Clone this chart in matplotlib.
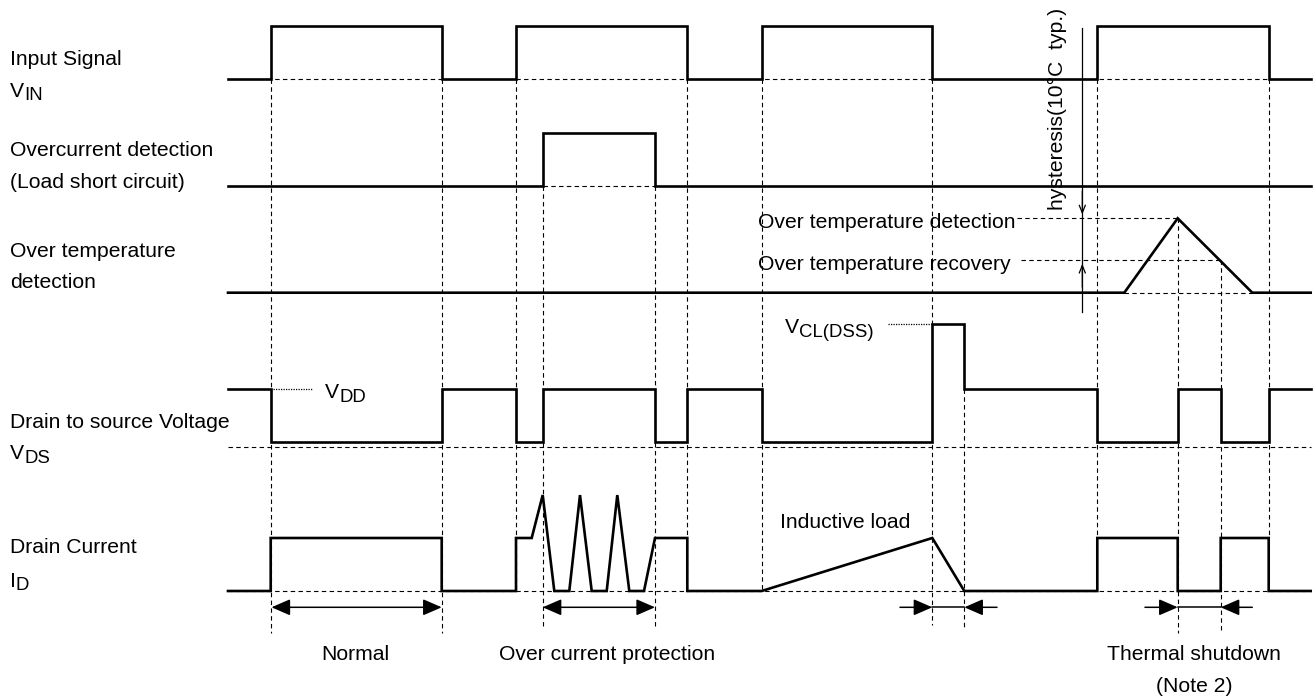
import matplotlib.pyplot as plt

plt.rcParams['font.family'] = ['Liberation Sans', 'DejaVu Sans']

# time axis (px along the diagram) and signal levels (1 = nominal "high")
vin_edges = [228, 270.7, 441.7, 516, 687.3, 761.7, 932.3, 1097.3, 1268.7, 1310.7]
vin_levels = [0, 1, 0, 1, 0, 1, 0, 1, 0]

oc_edges = [228, 542.7, 655, 1310.7]
oc_levels = [0, 1, 0]

ot_t = [228, 1124.3, 1177.7, 1252.3, 1310.7]
ot_lev = [0, 0, 1, 0, 0]
ot_recovery = 0.44

vds_edges = [228, 270.7, 441.7, 516, 542.7, 655, 687.3, 761.7, 932.3, 964.3,
             1097.3, 1177.7, 1220.7, 1268.7, 1310.7]
vds_levels = [1, 0, 1, 0, 1, 0, 1, 0, 2.215, 1, 0, 1, 0, 1]

id_t = [228, 270.7, 270.7, 441.7, 441.7, 516, 516, 531.7, 542.7, 554.3, 569.3,
        580, 591.7, 606.7, 617.3, 629.3, 644, 655, 687.3, 687.3, 761.7, 932.3,
        964.3, 1097.3, 1097.3, 1177.7, 1177.7, 1220.7, 1220.7, 1268.7, 1268.7, 1310.7]
id_lev = [0, 0, 1, 1, 0, 0, 1, 1, 1.81, 0, 0, 1.81, 0, 0, 1.81, 0, 0, 1, 1, 0, 0, 1,
          0, 0, 1, 1, 0, 0, 1, 1, 0, 0]

# row layout: baseline (px) and height of one level unit (px)
UNIT = 53
base = {'vin': 79.3, 'oc': 186, 'ot': 292.7, 'vds': 441.7, 'id': 591}
ot_unit = 74.4

# vertical guide lines: x, top, bottom
guides = [(270.7, 79, 633), (441.7, 79, 633), (516, 79, 591), (542.7, 186, 628),
          (655, 186, 628), (687.3, 79, 591), (761.7, 79, 591), (932.3, 79, 625),
          (964.3, 389, 628), (1097.3, 79, 538), (1177.7, 218, 633),
          (1220.7, 260, 633), (1268.7, 79, 538)]


def step(edges, levels):
    xs, ys = [edges[0]], [levels[0]]
    for i in range(1, len(levels)):
        xs += [edges[i], edges[i]]
        ys += [levels[i - 1], levels[i]]
    xs.append(edges[-1])
    ys.append(levels[-1])
    return xs, ys


def to_y(row, lev, unit=UNIT):
    return [base[row] - v * unit for v in lev]


fig = plt.figure(figsize=(13.15, 6.98), dpi=100)
ax = fig.add_axes([0, 0, 1, 1])
ax.set_xlim(0, 1315)
ax.set_ylim(698, 0)
ax.axis('off')

sig = dict(color='black', lw=1.9, solid_joinstyle='miter', zorder=3)
dash = dict(color='black', lw=0.8, ls=(0, (4, 3)), zorder=1)
dot = dict(color='black', lw=0.9, ls=(0, (1, 1)), zorder=1)

# dashed references
for x, y0, y1 in guides:
    ax.plot([x, x], [y0, y1], **dash)
ax.plot([228, 1310.7], [base['vin']] * 2, **dash)
ax.plot([542.7, 655], [base['oc']] * 2, **dash)
ax.plot([1124.3, 1252.3], [base['ot']] * 2, **dash)
y_det = base['ot'] - ot_unit
y_rec = base['ot'] - ot_recovery * ot_unit
ax.plot([1017, 1177.7], [y_det] * 2, **dash)
ax.plot([1021, 1220.7], [y_rec] * 2, **dash)
ax.plot([228, 1311], [base['vds'] + 5.3] * 2, **dash)
ax.plot([228, 1311], [base['id']] * 2, **dash)
ax.plot([273, 312], [base['vds'] - UNIT] * 2, **dot)
ax.plot([888, 932], [base['vds'] - 2.215 * UNIT] * 2, **dot)

# waveforms
x, y = step(vin_edges, vin_levels)
ax.plot(x, to_y('vin', y), **sig)
x, y = step(oc_edges, oc_levels)
ax.plot(x, to_y('oc', y), **sig)
ax.plot(ot_t, to_y('ot', ot_lev, ot_unit), **sig)
x, y = step(vds_edges, vds_levels)
ax.plot(x, to_y('vds', y), **sig)
ax.plot(id_t, to_y('id', id_lev), **sig)

# hysteresis marker
hx = 1082.3
ax.plot([hx, hx], [28, 311.7], color='black', lw=0.9)
hs = dict(arrowstyle='->,head_length=0.55,head_width=0.22', color='black', lw=0.9)
ax.annotate('', xy=(hx, y_det - 1), xytext=(hx, y_det - 30), arrowprops=hs)
ax.annotate('', xy=(hx, y_rec + 1), xytext=(hx, y_rec + 30), arrowprops=hs)
ax.text(1057.5, 109, 'hysteresis(10°C  typ.)', rotation=90, ha='center',
        va='center', fontsize=15.2)

# span arrows under the drain current
ay = 607.3
two = dict(arrowstyle='<|-|>,head_length=1.15,head_width=0.5', color='black',
           lw=1.1, shrinkA=0, shrinkB=0)
one = dict(arrowstyle='-|>,head_length=1.15,head_width=0.5', color='black',
           lw=1.1, shrinkA=0, shrinkB=0)
ax.annotate('', xy=(441.7, ay), xytext=(271.5, ay), arrowprops=two)
ax.annotate('', xy=(655, ay), xytext=(542.7, ay), arrowprops=two)
for a, b, c, d in [(900, 932.3, 997, 964.3), (1145, 1177.7, 1252.3, 1220.7)]:
    ax.plot([b, d], [ay, ay], color='black', lw=1.1)
    ax.annotate('', xy=(b, ay), xytext=(a, ay), arrowprops=one)
    ax.annotate('', xy=(d, ay), xytext=(c, ay), arrowprops=one)

FS = 15.2
txt = dict(fontsize=FS, va='baseline', color='black')


def label(x, y, main, sub=None, dy=3.5):
    t = ax.text(x, y, main, **txt)
    if sub:
        fig.canvas.draw()
        bb = t.get_window_extent()
        xe = ax.transData.inverted().transform((bb.x1, bb.y0))[0]
        ax.text(xe, y + dy, sub, fontsize=FS * 0.88, va='baseline')


label(10, 65, 'Input Signal')
label(10, 96.7, 'V', 'IN')
label(10, 156, 'Overcurrent detection')
label(10, 188, '(Load short circuit)')
label(10, 257, 'Over temperature')
label(10, 288.5, 'detection')
label(10, 428.3, 'Drain to source Voltage')
label(10, 459.3, 'V', 'DS')
label(10, 553.3, 'Drain Current')
label(10, 586.7, 'I', 'D')

label(325, 398.5, 'V', 'DD')
label(785, 333.3, 'V', 'CL(DSS)')
label(758.3, 228.3, 'Over temperature detection')
label(758.3, 270, 'Over temperature recovery')
label(780, 528.3, 'Inductive load')

ax.text(355.5, 660, 'Normal', ha='center', **txt)
ax.text(606.7, 660, 'Over current protection', ha='center', **txt)
ax.text(1193.8, 660, 'Thermal shutdown', ha='center', **txt)
ax.text(1193.8, 691.7, '(Note 2)', ha='center', **txt)

plt.savefig('out.png', dpi=100)
